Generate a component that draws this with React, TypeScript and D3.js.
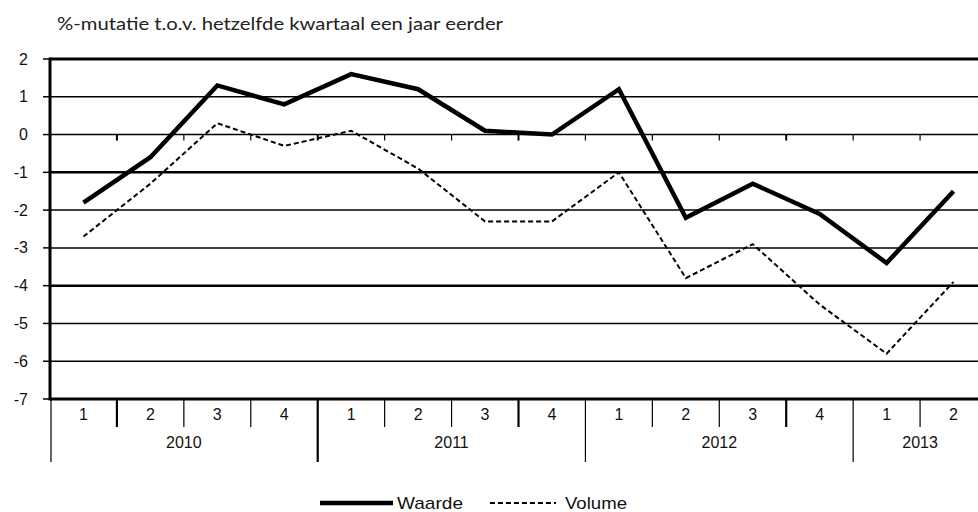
import React from "react";
import * as d3 from "d3";

const years = ["2010", "2011", "2012", "2013"];
const quartersPerYear = [4, 4, 4, 2];
const quarterLabels = ["1", "2", "3", "4", "1", "2", "3", "4", "1", "2", "3", "4", "1", "2"];
const waarde = [-1.8, -0.6, 1.3, 0.8, 1.6, 1.2, 0.1, 0.0, 1.2, -2.2, -1.3, -2.1, -3.4, -1.5];
const volume = [-2.7, -1.3, 0.3, -0.3, 0.1, -0.9, -2.3, -2.3, -1.0, -3.8, -2.9, -4.5, -5.8, -3.9];
const yTicks = [2, 1, 0, -1, -2, -3, -4, -5, -6, -7];
const thickGrid = [2, -1, -4, -7];
const thickSeparators = [1, 4, 7, 11];

const W = 978;
const H = 512;
const left = 50;
const right = 987;
const top = 59;
const bottom = 399;

export default function App() {
  const idx = quarterLabels.map((_, i) => i);
  const x = d3.scaleBand<number>().domain(idx).range([left, right]).paddingInner(0).paddingOuter(0);
  const y = d3.scaleLinear().domain([-7, 2]).range([bottom, top]);
  const cx = (i: number) => (x(i) as number) + x.bandwidth() / 2;
  const line = d3.line<number>().x((_, i) => cx(i)).y((d) => y(d));

  const yearStarts: number[] = [];
  let acc = 0;
  quartersPerYear.forEach((n) => {
    yearStarts.push(acc);
    acc += n;
  });

  const axisFont = "'Liberation Sans', Arial, sans-serif";

  return (
    <div style={{ position: "fixed", left: 0, top: 0, width: W, height: H, overflow: "hidden", background: "#fff" }}>
      <svg width={W} height={H} style={{ display: "block" }}>
        <rect x={0} y={0} width={W} height={H} fill="#fff" />
        <text
          x={57}
          y={30}
          fontFamily="Lato, 'Open Sans', sans-serif"
          fontSize={18}
          fill="#222"
          textLength={446}
          lengthAdjust="spacingAndGlyphs"
        >
          %-mutatie t.o.v. hetzelfde kwartaal een jaar eerder
        </text>

        {yTicks.map((t) => (
          <g key={t}>
            <line
              x1={left}
              x2={right}
              y1={y(t)}
              y2={y(t)}
              stroke="#000"
              strokeWidth={thickGrid.includes(t) ? (t === 2 || t === -7 ? 3 : 2.5) : 1.5}
            />
            <line x1={43} x2={left} y1={y(t)} y2={y(t)} stroke="#000" strokeWidth={1.5} />
            <text
              x={28}
              y={y(t)}
              dy="0.35em"
              textAnchor="end"
              fontFamily={axisFont}
              fontSize={16}
              fill="#111"
            >
              {t}
            </text>
          </g>
        ))}

        {idx.slice(1).map((i) => (
          <line
            key={"zt" + i}
            x1={x(i) as number}
            x2={x(i) as number}
            y1={y(0)}
            y2={y(0) + 6}
            stroke="#000"
            strokeWidth={thickSeparators.includes(i) ? 2 : 1.2}
          />
        ))}

        <line x1={left} x2={left} y1={top - 1.5} y2={bottom + 1.5} stroke="#000" strokeWidth={3} />

        <line x1={left + 1} x2={left + 1} y1={bottom} y2={462} stroke="#000" strokeWidth={1.2} />
        {idx.slice(1).map((i) => {
          const isYear = yearStarts.includes(i);
          return (
            <line
              key={"sep" + i}
              x1={x(i) as number}
              x2={x(i) as number}
              y1={bottom}
              y2={isYear ? 462 : 427}
              stroke="#000"
              strokeWidth={thickSeparators.includes(i) ? 2.2 : 1.2}
            />
          );
        })}

        {quarterLabels.map((q, i) => (
          <text
            key={"q" + i}
            x={cx(i)}
            y={414}
            dy="0.35em"
            textAnchor="middle"
            fontFamily={axisFont}
            fontSize={16}
            fill="#111"
          >
            {q}
          </text>
        ))}

        {years.map((yr, k) => {
          const s = yearStarts[k];
          const e = s + quartersPerYear[k];
          const mid = ((x(s) as number) + (e < idx.length ? (x(e) as number) : right)) / 2;
          return (
            <text
              key={yr}
              x={mid}
              y={442}
              dy="0.35em"
              textAnchor="middle"
              fontFamily={axisFont}
              fontSize={16}
              fill="#111"
            >
              {yr}
            </text>
          );
        })}

        <path d={line(volume) || ""} fill="none" stroke="#000" strokeWidth={2} strokeDasharray="5,3" />
        <path d={line(waarde) || ""} fill="none" stroke="#000" strokeWidth={4.5} strokeLinejoin="miter" />

        <line x1={320} x2={393} y1={503} y2={503} stroke="#000" strokeWidth={4.5} />
        <text
          x={397}
          y={503}
          dy="0.35em"
          fontFamily={axisFont}
          fontSize={17}
          fill="#111"
          textLength={66}
          lengthAdjust="spacingAndGlyphs"
        >
          Waarde
        </text>
        <line x1={490} x2={556} y1={503} y2={503} stroke="#000" strokeWidth={2} strokeDasharray="5,3" />
        <text
          x={565}
          y={503}
          dy="0.35em"
          fontFamily={axisFont}
          fontSize={17}
          fill="#111"
          textLength={62}
          lengthAdjust="spacingAndGlyphs"
        >
          Volume
        </text>
      </svg>
    </div>
  );
}
